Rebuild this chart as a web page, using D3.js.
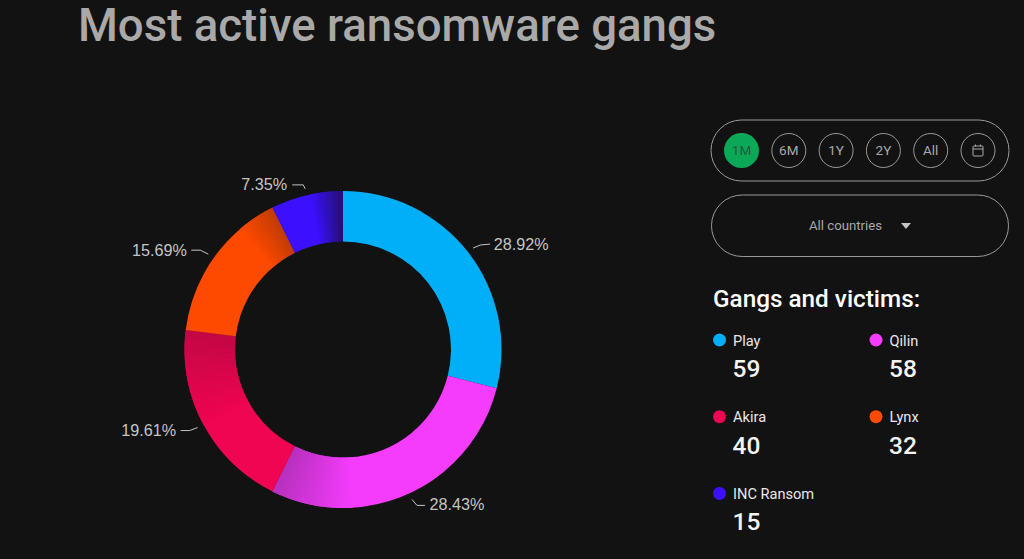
<!DOCTYPE html>
<html><head><meta charset="utf-8">
<script src="https://cdn.jsdelivr.net/npm/d3@7"></script>
<style>html,body{margin:0;padding:0;background:#121212;overflow:hidden}svg{display:block}</style>
</head><body><svg id="c" width="1024" height="559"></svg>
<script>
const gangs = ["Play","Qilin","Akira","Lynx","INC Ransom"];
const victims = [59,58,40,32,15];
const percentLabels = ["28.92%","28.43%","19.61%","15.69%","7.35%"];
const colors = ["#00aff8","#f53cfd","#f00552","#fe4a00","#3c10ff"];
const ranges = ["1M","6M","1Y","2Y","All"];
// shadow at the clockwise end of each slice: [span in degrees, peak darkness]
const shadows = [[0,0],[30,0.27],[36,0.2],[14,0.25],[12,0.6]];
const leaderOffsets = [[[7,-3],[17,-4]],[[5,6],[13,6]],[[-8,3],[-17,3]],[[-8,-4],[-17,-4]],[[-2,-4],[-13,-4]]];
const labelOffsets = [[20.5,-4,"start"],[17.5,5,"start"],[-21.5,2.5,"end"],[-21.5,-4.5,"end"],[-18,-5,"end"]];

const svg = d3.select("#c");
const cx=343, cy=349.5, R=158.5, r=108;
const g = svg.append("g").attr("transform",`translate(${cx},${cy})`);
const pie = d3.pie().sort(null).value(d=>d)(victims);
const arc = d3.arc().innerRadius(r).outerRadius(R);
const rad = Math.PI/180;
pie.forEach((s,i)=>{
  const [span,peak]=shadows[i];
  const flatEnd=s.endAngle-span*rad;
  g.append("path").attr("d",arc({startAngle:s.startAngle,endAngle:flatEnd+(span?0.01:0)})).attr("fill",colors[i]);
  const n=Math.round(span*3);
  const shade=d3.interpolateRgb(colors[i],"#121212");
  for(let k=0;k<n;k++){
    const a0=flatEnd+span*rad*k/n, a1=Math.min(s.endAngle,flatEnd+span*rad*(k+1)/n+0.006);
    const c=shade(peak*(k+1)/n);
    g.append("path").attr("d",arc({startAngle:a0,endAngle:a1})).attr("fill",c);
  }
});
// leaders + labels
pie.forEach((s,i)=>{
  const m=(s.startAngle+s.endAngle)/2;
  const p=[Math.sin(m)*165,-Math.cos(m)*165];
  const pts=[p,...leaderOffsets[i].map(o=>[p[0]+o[0],p[1]+o[1]])];
  g.append("path").attr("d",d3.line().curve(d3.curveLinear)(pts)).attr("fill","none").attr("stroke","#c4c4c4").attr("stroke-width",1);
  const l=labelOffsets[i];
  g.append("text").attr("x",p[0]+l[0]).attr("y",p[1]+l[1]).attr("dy","0.36em").attr("text-anchor",l[2])
   .attr("fill","#c4c4c4").style("font","16.2px 'Liberation Sans'").text(percentLabels[i]);
});
const font="Roboto";
svg.append("text").attr("x",78).attr("y",41).attr("fill","#a9a9a9").style("font",`500 45.6px ${font}`).text("Most active ransomware gangs");
// range selector
svg.append("rect").attr("x",711).attr("y",120).attr("width",298).attr("height",61).attr("rx",30.5).attr("fill","none").attr("stroke","#9a9a9a");
const bx=d3.scalePoint().domain([...ranges,"cal"]).range([741.5,978]);
[...ranges,"cal"].forEach((d,i)=>{
  const x=bx(d);
  svg.append("circle").attr("cx",x).attr("cy",150.5).attr("r",i==0?17.5:17).attr("fill",i==0?"#0ba858":"none").attr("stroke",i==0?"none":"#9a9a9a");
  if(d!=="cal") svg.append("text").attr("x",x).attr("y",155).attr("text-anchor","middle").attr("fill",i==0?"#1f5c3c":"#a9a9a9").style("font",`13.5px ${font}`).text(d);
});
const cal=svg.append("g").attr("transform",`translate(${bx("cal")},150.5)`).attr("fill","none").attr("stroke","#a9a9a9");
cal.append("rect").attr("x",-5).attr("y",-4.5).attr("width",10).attr("height",10).attr("rx",1);
cal.append("path").attr("d","M-5,-1.5H5M-2.5,-6V-4M2.5,-6V-4");
// country selector
svg.append("rect").attr("x",711.5).attr("y",195).attr("width",297).attr("height",61.5).attr("rx",30.7).attr("fill","none").attr("stroke","#9a9a9a");
svg.append("text").attr("x",845.5).attr("y",230).attr("text-anchor","middle").attr("fill","#a9a9a9").style("font",`13.2px ${font}`).text("All countries");
svg.append("path").attr("d","M901,223H911L906,229Z").attr("fill","#c4c4c4");
// legend
svg.append("text").attr("x",713).attr("y",307).attr("fill","#fff").style("font",`500 24.3px ${font}`).text("Gangs and victims:");
gangs.forEach((n,i)=>{
  const x=719.5+(i%2)*156.5, y=340+Math.floor(i/2)*76.7;
  svg.append("circle").attr("cx",x).attr("cy",y).attr("r",6.5).attr("fill",colors[i]);
  svg.append("text").attr("x",x+13.5).attr("y",y+5.5).attr("fill","#e8e8e8").style("font",`14.6px ${font}`).text(n);
  svg.append("text").attr("x",x+13).attr("y",y+37).attr("fill","#f4f4f4").style("font",`500 24.5px ${font}`).text(victims[i]);
});
</script></body></html>
